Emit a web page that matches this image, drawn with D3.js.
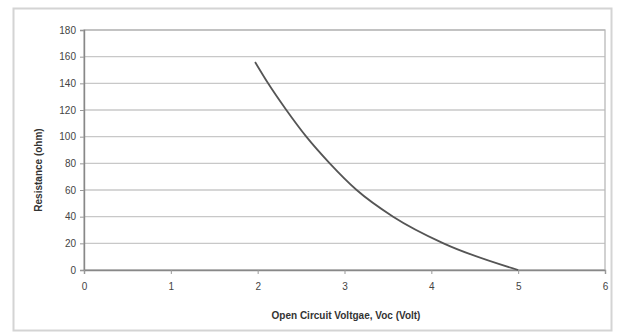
<!DOCTYPE html>
<html><head><meta charset="utf-8">
<script src="https://cdn.jsdelivr.net/npm/d3@7"></script>
<style>body{margin:0;background:#fff}svg{display:block}</style>
</head><body>
<svg id="c" width="620" height="334"></svg>
<script>
const voc = [1.97, 2.12, 2.33, 2.56, 2.83, 3.14, 3.56, 4.14, 5.0];
const resistance = [156, 140, 120, 100, 80, 60, 40, 20, 0];
const xTicks = [0, 1, 2, 3, 4, 5, 6];
const yTicks = [0, 20, 40, 60, 80, 100, 120, 140, 160, 180];
const xTitle = "Open Circuit Voltgae, Voc (Volt)";
const yTitle = "Resistance (ohm)";

const svg = d3.select("#c");
// outer frame
svg.append("rect").attr("x",13.5).attr("y",8.5).attr("width",598).attr("height",322)
  .attr("fill","#fff").attr("stroke","#d4d4d4").attr("stroke-width",2);

const L=84,R=605,T=30,B=270;
const x=d3.scaleLinear().domain([0,6]).range([L,R]);
const y=d3.scaleLinear().domain([0,180]).range([B,T]);

const g=svg.append("g");
g.selectAll(".grid").data(yTicks).join("line")
  .attr("x1",L).attr("x2",R).attr("y1",d=>y(d)).attr("y2",d=>y(d))
  .attr("stroke","#c8c8c8").attr("stroke-width",1.3);
g.append("rect").attr("x",L).attr("y",T).attr("width",R-L).attr("height",B-T)
  .attr("fill","none").attr("stroke","#b8b8b8").attr("stroke-width",1.3);

const ya=svg.append("g").attr("transform",`translate(${L},0)`)
  .call(d3.axisLeft(y).tickValues(yTicks).tickFormat(d3.format("d")).tickSize(4).tickPadding(4));
const xa=svg.append("g").attr("transform",`translate(0,${B})`)
  .call(d3.axisBottom(x).tickValues(xTicks).tickFormat(d3.format("d")).tickSize(4).tickPadding(9));
[ya,xa].forEach(a=>{
  a.select(".domain").attr("stroke","#888").attr("stroke-width",1.4);
  a.selectAll(".tick line").attr("stroke","#999");
  a.selectAll("text").attr("font-family","Liberation Sans, Arial").attr("font-size",10).attr("fill","#444");
});

const pts=voc.map((v,i)=>[v,resistance[i]]);
svg.append("path").datum(pts)
  .attr("d",d3.line().x(d=>x(d[0])).y(d=>y(d[1])).curve(d3.curveMonotoneX))
  .attr("fill","none").attr("stroke","#555").attr("stroke-width",1.8);

svg.append("text").attr("x",346).attr("y",319).attr("text-anchor","middle")
  .attr("font-family","Liberation Sans, Arial").attr("font-weight","bold").attr("font-size",10)
  .attr("fill","#333").text(xTitle);
svg.append("text").attr("transform","translate(42,170) rotate(-90)").attr("text-anchor","middle")
  .attr("font-family","Liberation Sans, Arial").attr("font-weight","bold").attr("font-size",10)
  .attr("fill","#333").text(yTitle);
</script>
</body></html>
